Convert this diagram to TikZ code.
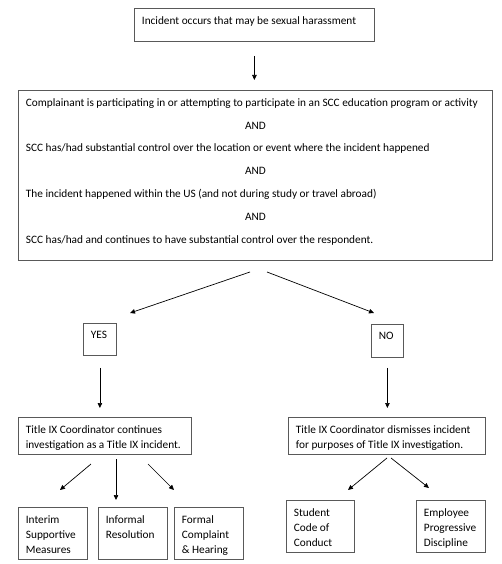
\documentclass[tikz,border=0pt]{standalone}
\usepackage{fontspec}
\setmainfont{Carlito}
\usetikzlibrary{arrows.meta}
\tikzstyle{brick} = [rectangle, anchor = north west, inner xsep = 7.5pt, inner ysep = 5.5pt, draw = black!65, line width = 0.8pt]
\tikzstyle{link} = [-{Triangle[length=5pt,width=4.5pt]}, line width = 0.7pt]
\newcommand{\cell}[3]{\parbox[c][#2pt][t]{#1pt}{\raggedright\vspace*{2.5pt}#3}}

\begin{document}
\begin{tikzpicture}[x = 1pt, y = -1pt, font = \fontsize{11.3}{15.3}\selectfont]
        \useasboundingbox (0,0) rectangle (502,564);
        \node (inc)  [brick] at (134,8)   {\cell{225}{22}{Incident occurs that may be sexual harassment}};
        \node (cond) [brick] at (18,90)   {\cell{459}{159}{\baselineskip=22.8pt
            Complainant is participating in or attempting to participate in an SCC education program or activity\\
            \makebox[\linewidth]{AND}\\
            SCC has/had substantial control over the location or event where the incident happened\\
            \makebox[\linewidth]{AND}\\
            The incident happened within the US (and not during study or travel abroad)\\
            \makebox[\linewidth]{AND}\\
            SCC has/had and continues to have substantial control over the respondent.}};
        \node (yes)  [brick] at (83,323)  {\cell{18}{21}{YES}};
        \node (no)   [brick] at (371,324) {\cell{17}{22}{NO}};
        \node (tyes) [brick] at (18,417)  {\cell{158}{26}{Title IX Coordinator continues\\investigation as a Title IX incident.}};
        \node (tno)  [brick] at (288,417) {\cell{182}{26}{Title IX Coordinator dismisses incident\\for purposes of Title IX investigation.}};
        \node (ism)  [brick] at (18,507)  {\cell{54}{41}{Interim\\Supportive\\Measures}};
        \node (ir)   [brick] at (98,507)  {\cell{54}{41}{Informal\\Resolution}};
        \node (fch)  [brick] at (174,507) {\cell{54}{41}{Formal\\Complaint\\\& Hearing}};
        \node (scc)  [brick] at (286,500) {\cell{53}{41}{Student\\Code of\\Conduct}};
        \node (epd)  [brick] at (416,500) {\cell{54}{41}{Employee\\Progressive\\Discipline}};
        \coordinate (yin)  at (130,313);
        \coordinate (nin)  at (374,313);
        \draw [link, shorten <= 14pt, shorten >= 10pt] (inc.south) -- (inc.south |- cond.north);
        \draw [link] (250,272) -- (yin);
        \draw [link] (267,272) -- (nin);
        \draw [link, shorten <= 12pt, shorten >= 9pt] (yes.south) -- (yes.south |- tyes.north);
        \draw [link, shorten <= 10pt, shorten >= 9pt] (no.south) -- (no.south |- tno.north);
        \draw [link] (91,464) -- (60,490);
        \draw [link] (116,459) -- (116,500);
        \draw [link] (148,464) -- (174,490);
        \draw [link] (387,458) -- (348,490);
        \draw [link] (391,458) -- (429,488);
    \end{tikzpicture}
\end{document}
